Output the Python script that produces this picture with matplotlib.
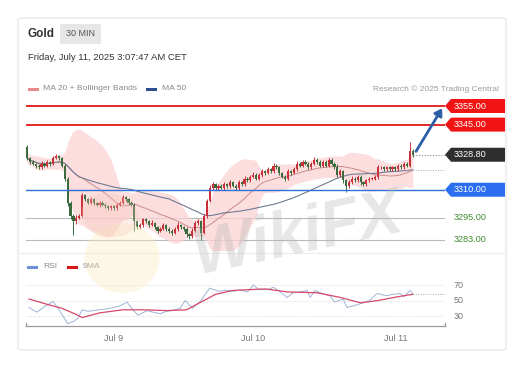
import matplotlib
matplotlib.use("Agg")
import matplotlib.pyplot as plt
import matplotlib.transforms as mtransforms
from matplotlib.patches import Polygon, FancyBboxPatch, Ellipse, FancyArrowPatch
import numpy as np
import pandas as pd

plt.rcParams['font.family'] = ['Liberation Sans', 'DejaVu Sans']

# ---------------- data ----------------
closes = [3327, 3325, 3324, 3323, 3322, 3324, 3323, 3325, 3324, 3327,
          3328, 3327, 3323, 3316, 3303, 3296, 3293, 3295, 3296, 3307,
          3305, 3303, 3305, 3303, 3302, 3303, 3302, 3301, 3300, 3301,
          3300, 3302, 3303, 3306, 3305, 3303, 3302, 3293, 3290, 3291,
          3294, 3293, 3291, 3292, 3290, 3288, 3289, 3291, 3289, 3288,
          3287, 3289, 3291, 3290, 3289, 3286, 3285, 3288, 3292, 3293,
          3287, 3296, 3304, 3311, 3313, 3311, 3312, 3311, 3313, 3312,
          3314, 3312, 3311, 3314, 3313, 3316, 3315, 3317, 3318, 3316,
          3318, 3320, 3319, 3321, 3320, 3323, 3322, 3319, 3317, 3316,
          3320, 3319, 3321, 3324, 3323, 3325, 3324, 3322, 3324, 3326,
          3325, 3323, 3325, 3323, 3326, 3324, 3322, 3318, 3320, 3315,
          3312, 3314, 3316, 3315, 3317, 3314, 3313, 3315, 3316, 3316,
          3317, 3322, 3322, 3321, 3322, 3321, 3322, 3321, 3323, 3322,
          3324, 3323, 3331, 3328.8]
first_open = 3333
upper_wick = [1.0, 0.8, 1.2, 0.6, 1.0, 1.5, 0.8, 1.0, 0.7, 1.2,
              1.0, 0.9, 0.6, 0.8, 1.0, 1.2, 0.8, 1.5, 1.0, 1.2,
              0.9, 0.7, 1.0, 0.8, 0.6, 1.0, 0.7, 0.9, 0.6, 0.8,
              1.0, 0.7, 1.2, 1.0, 0.8, 0.6, 0.9, 1.0, 0.8, 1.2,
              1.0, 0.7, 0.9, 1.5, 0.8, 0.6, 1.0, 1.3, 0.7, 0.9,
              0.8, 1.0, 1.6, 0.8, 0.7, 1.0, 0.9, 1.2, 1.0, 1.5,
              0.8, 1.0, 1.2, 1.5, 1.0, 0.8, 1.2, 0.9, 1.0, 0.8,
              1.2, 0.7, 0.9, 1.0, 0.8, 1.2, 0.7, 1.0, 1.5, 0.8,
              1.0, 1.3, 0.8, 1.0, 0.9, 1.5, 1.0, 0.8, 0.7, 0.9,
              1.2, 0.8, 1.0, 1.3, 0.9, 1.2, 0.8, 0.7, 1.0, 1.4,
              1.0, 0.8, 1.2, 0.9, 1.3, 0.8, 0.7, 2.0, 1.0, 0.8,
              0.9, 1.0, 1.2, 0.8, 1.0, 0.7, 0.9, 1.0, 0.8, 1.0,
              1.0, 1.2, 0.9, 0.8, 1.0, 0.7, 0.9, 0.8, 1.0, 0.9,
              1.1, 0.8, 4.5, 1.0]
lower_wick = [0.8, 1.0, 0.7, 1.2, 0.9, 0.8, 1.0, 0.6, 1.1, 0.8,
              0.7, 1.0, 0.9, 1.2, 1.5, 1.8, 7.5, 1.2, 1.0, 0.8,
              1.0, 0.9, 0.7, 1.0, 0.8, 1.1, 0.9, 0.7, 1.0, 0.8,
              0.9, 0.7, 1.0, 0.8, 0.9, 1.0, 0.8, 5.0, 1.2, 1.0,
              0.8, 0.9, 1.0, 0.7, 1.2, 1.0, 0.9, 0.8, 1.0, 1.1,
              1.4, 0.8, 1.0, 0.9, 1.0, 1.2, 1.5, 0.9, 0.8, 1.0,
              4.0, 1.0, 1.2, 0.8, 1.0, 0.9, 1.0, 0.8, 1.1, 0.9,
              1.0, 0.8, 1.2, 0.9, 1.0, 0.8, 1.0, 0.9, 0.7, 1.0,
              0.8, 1.0, 0.9, 0.7, 1.0, 0.8, 0.9, 1.0, 0.8, 1.2,
              0.9, 1.0, 0.8, 0.7, 1.0, 0.9, 0.8, 1.0, 0.9, 0.8,
              1.0, 0.9, 0.8, 1.0, 0.7, 0.9, 1.0, 1.2, 0.9, 1.5,
              3.0, 1.0, 0.8, 0.9, 1.0, 1.2, 0.9, 0.8, 1.0, 0.9,
              0.8, 1.0, 0.9, 1.0, 0.8, 0.9, 1.0, 0.8, 0.9, 1.0,
              0.8, 0.9, 1.0, 1.2]

# RSI (candle index, value)
rsi_idx = [0.7, 2, 3.4, 6, 9, 10.7, 12.4, 14, 16, 17.6, 19, 21, 22.8, 25, 28.6,
           32, 34.5, 36.5, 38.3, 41.4, 43.4, 45.9, 48, 50, 52.8, 54.5, 57, 60,
           61.4, 63, 65.9, 69, 71.7, 73.4, 76, 78, 80, 82.8, 85, 87, 89.7, 91.7,
           94, 96.6, 97.6, 99.3, 101.7, 104.5, 106, 109, 110.3, 112.4, 115.9,
           118, 120.7, 124, 126, 128.6, 130, 132, 133]
rsi_vals = [41, 38, 35, 42, 48.7, 40, 30, 20, 23, 27, 38, 36, 37, 38, 40,
            43, 48, 38, 31, 37, 35, 33, 36, 37, 40, 50, 40, 50,
            58, 66, 62, 63, 62, 64, 61, 70, 64, 64, 67, 62, 54, 60,
            61, 63, 54, 63, 59, 56, 48, 52, 41, 43, 47,
            50, 59, 56, 58, 59, 55, 63, 59]
ma9_idx = [0.7, 7, 12, 17, 19, 25, 33, 40, 48, 55, 60, 65, 71, 82, 90, 100,
           108, 115, 121, 128, 133]
ma9_vals = [52, 45, 40, 32, 28, 34, 38, 38, 37, 38, 48, 58, 63, 65, 61, 60,
            54, 47, 50, 55, 58]

level_values = [3355.00, 3345.00, 3310.00, 3295.00, 3283.00]
last_price = 3328.80
target_price = 3355.00
date_ticks = [30, 78, 127]
date_labels = ["Jul 9", "Jul 10", "Jul 11"]
rsi_levels = [70, 50, 30]

# ---------------- derived series ----------------
c = pd.Series(closes, dtype=float)
o = pd.Series([first_open] + closes[:-1], dtype=float)
hi = np.maximum(o, c) + np.array(upper_wick)
lo = np.minimum(o, c) - np.array(lower_wick)
idx = np.arange(len(c))

ma20 = c.rolling(20, min_periods=1).mean()
sd20 = c.rolling(20, min_periods=2).std().bfill()
bb_up = ma20 + 2 * sd20
bb_dn = ma20 - 2 * sd20
ma50 = c.rolling(50, min_periods=1).mean()

# ---------------- figure ----------------
W, H = 514, 365
fig = plt.figure(figsize=(W / 100, H / 100), dpi=100)
fig.patch.set_facecolor('white')

def fx(px):
    return px / W

def fy(py):
    return 1 - py / H

# card
card = FancyBboxPatch((fx(18), fy(350)), fx(506) - fx(18), fy(18) - fy(350),
                      boxstyle="round,pad=0,rounding_size=0.006",
                      transform=fig.transFigure, facecolor='white',
                      edgecolor='#e4e4e4', linewidth=0.8, zorder=0)
fig.add_artist(card)
fig.add_artist(plt.Line2D([fx(18), fx(506)], [fy(253), fy(253)],
                          transform=fig.transFigure, color='#ececec', lw=0.8))

# header
fig.text(fx(27), fy(34), "Gold", fontsize=8.5, fontweight='bold', color='#333333',
         va='center', ha='left')
tag = FancyBboxPatch((fx(60), fy(44)), fx(101) - fx(60), fy(24) - fy(44),
                     boxstyle="round,pad=0,rounding_size=0.004",
                     transform=fig.transFigure, facecolor='#e6e6e6',
                     edgecolor='none')
fig.add_artist(tag)
fig.text(fx(80.5), fy(34), "30 MIN", fontsize=6.5, color='#555555',
         va='center', ha='center')
fig.text(fx(28), fy(58), "Friday, July 11, 2025 3:07:47 AM CET", fontsize=6.8,
         color='#333333', va='center', ha='left')

# legend row
fig.add_artist(plt.Line2D([fx(29), fx(37)], [fy(89), fy(89)], transform=fig.transFigure,
                          color='#e98a8f', lw=2.2))
fig.text(fx(43), fy(89), "MA 20 + Bollinger Bands", fontsize=6.1, color='#8a8a8a',
         va='center', ha='left')
fig.add_artist(plt.Line2D([fx(147), fx(155)], [fy(89), fy(89)], transform=fig.transFigure,
                          color='#2e4f8f', lw=2.2))
fig.text(fx(162), fy(89), "MA 50", fontsize=6.1, color='#8a8a8a', va='center', ha='left')
fig.text(fx(499), fy(89), "Research \u00a9 2025 Trading Central", fontsize=6.0,
         color='#9a9a9a', va='center', ha='right')

# ---------------- main axes ----------------
ax = fig.add_axes([fx(26), fy(250), fx(445) - fx(26), fy(98) - fy(250)])
ax.set_xlim(-0.35, 144.1)
ax.set_ylim(3277.6, 3359.3)
ax.axis('off')

ax.fill_between(idx, bb_dn, bb_up, color='#fbd3d3', alpha=0.75, lw=0, zorder=1)
ax.plot(idx, ma20, color='#c98c8c', lw=0.7, zorder=2)
ax.plot(idx, ma50, color='#6f7a90', lw=0.8, zorder=2)

up_col, dn_col = '#c9303a', '#3b6b3c'
cols = [up_col if cc >= oo else dn_col for oo, cc in zip(o, c)]
ax.vlines(idx, lo, hi, colors=cols, lw=0.7, zorder=3)
ax.bar(idx, (c - o).where((c - o).abs() > 0.4, 0.4), bottom=o, width=0.75,
       color=cols, lw=0, zorder=4)

# horizontal levels
ax.axhline(level_values[0], color='#e01818', lw=1.3, zorder=5)
ax.axhline(level_values[1], color='#e01818', lw=1.3, zorder=5)
ax.axhline(level_values[2], color='#2f6fd6', lw=1.0, zorder=5)
ax.axhline(level_values[3], color='#b8bcb8', lw=0.8, zorder=0.5)
ax.axhline(level_values[4], color='#b8bcb8', lw=0.8, zorder=0.5)
ax.plot([idx[-1], 144.1], [last_price, last_price], ls=(0, (1, 1.5)), color='#888888',
        lw=0.8, zorder=5, clip_on=False)
ax.plot([idx[-1] - 4, 144.1], [ma50.iloc[-1], ma50.iloc[-1]], ls=(0, (1, 1.5)),
        color='#aaaaaa', lw=0.7, zorder=5, clip_on=False)

# forecast arrow
arr = FancyArrowPatch((idx[-1] + 0.6, last_price + 0.5), (143.6, target_price),
                      arrowstyle='-|>,head_length=4,head_width=2.6',
                      color='#2d5ea8', lw=2.0, zorder=7, clip_on=False)
ax.add_patch(arr)

# price tags
tr = mtransforms.blended_transform_factory(fig.transFigure, ax.transData)
hh = 7 / 1.861

def tag_box(val, face):
    pts = [(fx(445), val), (fx(451), val + hh), (fx(505), val + hh),
           (fx(505), val - hh), (fx(451), val - hh)]
    fig.add_artist(Polygon(pts, closed=True, transform=tr, facecolor=face,
                           edgecolor='none', zorder=8))
    fig.text(fx(454), val, f"{val:.2f}", transform=tr, fontsize=6.6,
             color='white', va='center', ha='left', zorder=9)

tag_box(level_values[0], '#f01414')
tag_box(level_values[1], '#f01414')
tag_box(level_values[2], '#2b6ff0')
tag_box(last_price, '#2e2e2e')
for v in level_values[3:]:
    fig.text(fx(454), v, f"{v:.2f}", transform=tr, fontsize=6.6,
             color='#3f8f2f', va='center', ha='left')

# ---------------- RSI axes ----------------
fig.add_artist(plt.Line2D([fx(28), fx(36)], [fy(267), fy(267)], transform=fig.transFigure,
                          color='#6d8fd8', lw=2.2))
fig.text(fx(43), fy(267), "RSI", fontsize=6.1, color='#8a8a8a', va='center', ha='left')
fig.add_artist(plt.Line2D([fx(68), fx(76)], [fy(267), fy(267)], transform=fig.transFigure,
                          color='#d81818', lw=2.2))
fig.text(fx(83), fy(267), "9MA", fontsize=6.1, color='#8a8a8a', va='center', ha='left')

rax = fig.add_axes([fx(26), fy(326), fx(445) - fx(26), fy(272) - fy(326)])
rax.set_xlim(-0.35, 144.1)
rax.set_ylim(17.1, 86.8)
for s in ['top', 'right', 'left']:
    rax.spines[s].set_visible(False)
rax.spines['bottom'].set_color('#9a9a9a')
rax.spines['bottom'].set_linewidth(0.9)
rax.set_yticks([])
rax.set_xticks(date_ticks)
rax.set_xticklabels(date_labels, fontsize=6.5, color='#777777')
rax.tick_params(axis='x', length=0, pad=6)
rax.plot([-0.35, -0.35], [17.1, 21.0], color='#9a9a9a', lw=0.9, clip_on=False)
rax.plot([144.1, 144.1], [17.1, 21.0], color='#9a9a9a', lw=0.9, clip_on=False)
for lv in rsi_levels:
    rax.axhline(lv, color='#d4d4d4', lw=0.6, ls=(0, (1, 1.5)))
    rax.text(1.02, lv, str(lv), transform=rax.get_yaxis_transform(), fontsize=6.5,
             color='#777777', va='center', ha='left')
rax.plot(rsi_idx, rsi_vals, color='#9db4d6', lw=0.7)
rax.plot(ma9_idx, ma9_vals, color='#d6486a', lw=0.9)
rax.plot([rsi_idx[-1], 144.1], [rsi_vals[-1], rsi_vals[-1]], ls=(0, (1, 1.5)),
         color='#aaaaaa', lw=0.7, clip_on=False)

# ---------------- watermark ----------------
fig.add_artist(Ellipse((fx(122), fy(258)), fx(75) - fx(0), fy(0) - fy(70),
                       transform=fig.transFigure, facecolor='#fbebc0', alpha=0.4,
                       edgecolor='none', zorder=10))
fig.add_artist(Ellipse((fx(110), fy(215)), fx(55) - fx(0), fy(0) - fy(45), angle=30,
                       transform=fig.transFigure, facecolor='#f7c6b8', alpha=0.3,
                       edgecolor='none', zorder=10))
fig.text(fx(298), fy(235), "WikiFX", fontsize=46, fontweight='bold', style='italic',
         color='#b0b0b0', alpha=0.3, rotation=12, ha='center', va='center', zorder=10)

fig.savefig("out.png", dpi=100, facecolor='white')
